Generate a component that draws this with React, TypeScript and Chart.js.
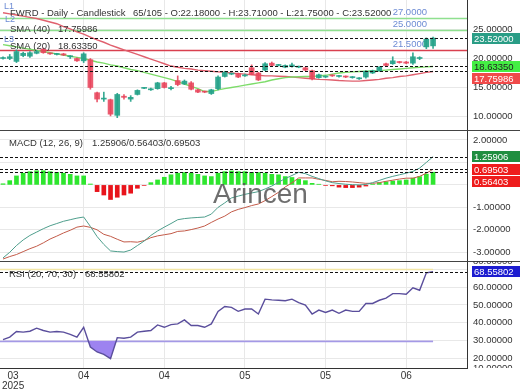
import React, { useEffect, useRef } from 'react';
import { Chart, registerables } from 'chart.js';

Chart.register(...registerables);

const FONT = '"Liberation Sans", Arial, Helvetica, sans-serif';
Chart.defaults.font.family = FONT;

const TXT = '#333333';
const GRID = '#e8e8e8';
const AXIS = '#333333';
const UP = 'rgba(38,163,138,0.92)';
const DOWN = 'rgba(232,70,92,0.88)';

// ---------- data ----------
const TITLE = 'FWRD - Daily - Candlestick';
const BAR_COUNT = '65/105';

const OPEN = [20.0, 20.0, 19.5, 20.5, 20.4, 20.9, 21.6, 20.85, 20.7, 20.8, 20.3, 20.0, 19.6, 19.8, 14.1, 13.0, 12.9, 10.2, 13.5, 13.0, 13.8, 14.85, 14.6, 14.8, 15.8, 14.8, 16.2, 15.6, 15.8, 14.6, 14.3, 13.95, 14.8, 16.9, 17.3, 17.4, 17.0, 18.4, 17.5, 18.0, 19.2, 18.8, 18.5, 18.6, 18.5, 18.4, 17.9, 16.7, 16.8, 17.1, 16.9, 16.9, 16.7, 16.5, 16.8, 17.5, 17.9, 19.1, 19.1, 19.4, 19.4, 19.2, 20.0, 22.0, 22.18];
const HIGH = [20.3, 20.7, 21.5, 21.1, 21.2, 21.4, 21.8, 20.95, 20.9, 20.9, 20.5, 20.1, 21.0, 20.0, 14.2, 14.2, 13.0, 14.0, 13.8, 13.6, 14.6, 15.0, 14.9, 15.9, 15.9, 15.2, 17.0, 16.3, 16.0, 14.7, 14.4, 14.7, 17.0, 17.8, 17.5, 17.5, 17.3, 18.9, 17.6, 19.3, 19.4, 19.0, 18.9, 19.2, 18.7, 18.5, 18.0, 17.3, 17.0, 17.2, 17.1, 17.0, 16.9, 16.7, 17.9, 18.0, 18.6, 19.2, 20.3, 19.5, 19.5, 21.0, 20.3, 23.55, 23.71];
const LOW = [19.9, 19.8, 19.3, 20.3, 20.2, 20.8, 20.9, 20.7, 20.6, 20.5, 20.0, 19.5, 19.3, 14.7, 12.5, 12.6, 10.1, 9.8, 13.0, 12.6, 13.7, 14.8, 14.5, 14.7, 14.9, 14.6, 15.3, 15.5, 14.6, 14.1, 14.1, 13.8, 14.6, 16.8, 17.2, 16.7, 16.9, 17.2, 16.2, 17.9, 18.7, 18.7, 18.4, 18.5, 18.4, 17.9, 16.3, 16.6, 16.7, 16.9, 16.8, 16.7, 16.6, 16.4, 16.6, 17.4, 17.8, 18.7, 19.0, 19.2, 19.1, 19.0, 19.8, 21.7, 21.75];
const CLOSE = [20.1, 20.3, 21.2, 20.9, 21.0, 21.2, 21.0, 20.8, 20.75, 20.6, 20.32, 19.6, 20.8, 15.0, 13.0, 13.1, 10.4, 13.8, 13.3, 13.3, 14.5, 14.9, 14.65, 15.8, 15.0, 14.9, 15.5, 16.1, 14.7, 14.2, 14.2, 14.6, 16.8, 17.6, 17.35, 16.8, 17.1, 17.25, 16.3, 19.1, 18.8, 18.85, 18.8, 18.9, 18.55, 18.0, 16.5, 17.2, 16.85, 17.0, 16.95, 16.8, 16.75, 16.55, 17.8, 17.9, 18.5, 18.8, 19.6, 19.3, 19.2, 20.3, 20.05, 23.35, 23.52];

const SMA20 = [22.4, 22.2, 22.0, 21.8, 21.6, 21.4, 21.2, 21.0, 20.8, 20.6, 20.4, 20.2, 20.0, 19.7, 19.4, 19.2, 18.9, 18.7, 18.4, 18.1, 17.9, 17.6, 17.3, 17.0, 16.7, 16.4, 16.0, 15.6, 15.2, 14.8, 14.3, 14.3, 14.6, 14.8, 15.0, 15.2, 15.4, 15.6, 15.8, 16.0, 16.3, 16.5, 16.7, 16.8, 16.85, 16.9, 16.9, 17.0, 17.1, 17.3, 17.5, 17.6, 17.7, 17.75, 17.8, 17.85, 17.9, 18.0, 18.1, 18.2, 18.3, 18.4, 18.5, 18.55, 18.6335];
const SMA40 = [27.9, 27.7, 27.5, 27.3, 27.1, 26.9, 26.6, 26.3, 26.0, 25.5, 25.1, 24.6, 24.2, 23.7, 23.2, 22.8, 22.3, 21.9, 21.5, 21.1, 20.7, 20.3, 19.9, 19.5, 19.1, 18.7, 18.5, 18.3, 18.2, 18.0, 17.9, 17.8, 17.7, 17.6, 17.5, 17.4, 17.3, 17.2, 17.1, 17.0, 17.0, 16.95, 16.9, 16.8, 16.7, 16.6, 16.5, 16.4, 16.35, 16.3, 16.2, 16.15, 16.1, 16.1, 16.2, 16.3, 16.4, 16.6, 16.7, 16.9, 17.0, 17.2, 17.4, 17.6, 17.75986];

const MACD_LINE = [-3.25, -3.0, -2.7, -2.45, -2.25, -2.1, -1.95, -1.82, -1.72, -1.62, -1.55, -1.48, -1.43, -1.85, -2.3, -2.65, -2.94, -2.97, -2.99, -2.9, -2.7, -2.5, -2.25, -2.05, -1.88, -1.72, -1.55, -1.5, -1.47, -1.45, -1.43, -1.3, -1.0, -0.8, -0.58, -0.5, -0.42, -0.36, -0.3, -0.18, -0.05, 0.12, 0.28, 0.42, 0.56, 0.5, 0.38, 0.28, 0.18, 0.1, 0.06, 0.03, 0.01, 0.0, 0.02, 0.1, 0.2, 0.3, 0.38, 0.45, 0.52, 0.6, 0.75, 1.0, 1.25906];
const SIGNAL_LINE = [-3.3, -3.19, -3.1, -2.97, -2.84, -2.73, -2.58, -2.41, -2.28, -2.14, -2.02, -1.88, -1.83, -1.89, -2.0, -2.2, -2.29, -2.42, -2.54, -2.53, -2.55, -2.48, -2.35, -2.27, -2.22, -2.17, -2.07, -2.05, -1.99, -1.92, -1.83, -1.67, -1.52, -1.39, -1.2, -1.09, -1.01, -0.92, -0.85, -0.7, -0.52, -0.33, -0.09, 0.09, 0.31, 0.31, 0.31, 0.25, 0.2, 0.14, 0.16, 0.15, 0.13, 0.1, 0.07, 0.07, 0.1, 0.16, 0.21, 0.26, 0.3, 0.3, 0.38, 0.52, 0.69503];
const HISTOGRAM = [0.05, 0.19, 0.4, 0.52, 0.59, 0.63, 0.63, 0.59, 0.56, 0.52, 0.47, 0.4, 0.4, 0.04, -0.3, -0.45, -0.65, -0.55, -0.45, -0.37, -0.15, -0.02, 0.1, 0.22, 0.34, 0.45, 0.52, 0.55, 0.52, 0.47, 0.4, 0.37, 0.52, 0.59, 0.62, 0.59, 0.59, 0.56, 0.55, 0.52, 0.47, 0.45, 0.37, 0.33, 0.25, 0.19, 0.07, 0.03, -0.02, -0.04, -0.1, -0.12, -0.12, -0.1, -0.05, 0.03, 0.1, 0.14, 0.17, 0.19, 0.22, 0.3, 0.37, 0.48, 0.56403];

const RSI_VALUES = [30.6, 32.0, 35.1, 34.8, 35.3, 37.0, 35.7, 34.8, 35.1, 34.8, 33.5, 32.0, 37.5, 26.5, 23.7, 22.4, 20.0, 31.7, 31.4, 32.0, 34.8, 35.3, 35.7, 38.8, 37.5, 39.0, 39.4, 41.6, 38.5, 38.5, 37.5, 39.4, 46.4, 49.1, 48.6, 46.4, 47.7, 47.7, 44.9, 53.2, 52.8, 52.6, 52.3, 53.2, 51.3, 49.9, 44.9, 47.1, 45.8, 47.1, 45.3, 47.1, 46.4, 46.4, 50.8, 50.8, 52.6, 53.8, 56.3, 56.3, 56.0, 59.6, 58.2, 67.9, 68.55802];

const X_TICK_INDEX = [1.5, 12, 24, 36, 48, 60];
const X_TICK_LABELS: (string | string[])[] = [['03', '2025'], '04', '04', '05', '05', '06'];

const PRICE_TICKS = [10, 15, 20, 25];
const MACD_TICKS = [-3, -2, -1, 0, 1, 2];
const MACD_TICK_LABELS = [2, -1, -2, -3];
const RSI_TICKS = [20, 30, 40, 50, 60, 70];
const RSI_TICK_LABELS = [80, 60, 50, 40, 30, 20, 10];

const PRICE_LEVELS = [27, 25, 21.5];
const PRICE_LEVEL_COLORS = ['#8fe08f', '#8fe08f', '#d9404f'];
const LINE_NAMES = ['L1', 'L2', 'L3'];
const RSI_LEVELS = [70, 30];
const RSI_LEVEL_COLORS = ['#f2e6a6', '#a499e6'];

// ---------- helpers ----------
const LAST = CLOSE.length - 1;
const f5 = (v: number) => v.toFixed(5);
const f4 = (v: number) => v.toFixed(4);
const pts = (arr: number[]) => arr.map((v, i) => ({ x: i, y: v }));
const candleColors = CLOSE.map((c, i) => (c >= OPEN[i] ? UP : DOWN));

function text(ctx: any, s: string, x: number, y: number, size: number, color: string, align = 'left') {
  ctx.save();
  ctx.font = `${size}px ${FONT}`;
  ctx.fillStyle = color;
  ctx.textAlign = align;
  ctx.textBaseline = 'middle';
  ctx.fillText(s, x, y);
  ctx.restore();
}

function dashed(chart: any, scale: any, value: number) {
  const ctx = chart.ctx;
  const a = chart.chartArea;
  const y = Math.round(scale.getPixelForValue(value)) + 0.5;
  ctx.save();
  ctx.strokeStyle = '#111';
  ctx.lineWidth = 1;
  ctx.setLineDash([3, 2]);
  ctx.beginPath();
  ctx.moveTo(a.left, y);
  ctx.lineTo(a.right, y);
  ctx.stroke();
  ctx.restore();
}

function axisLabels(chart: any, scale: any, values: number[], clamp: boolean) {
  const ctx = chart.ctx;
  const a = chart.chartArea;
  ctx.save();
  ctx.beginPath();
  ctx.rect(a.right + 1, a.top, chart.width - a.right, a.bottom - a.top);
  ctx.clip();
  ctx.font = `9.5px ${FONT}`;
  ctx.fillStyle = TXT;
  ctx.textAlign = 'left';
  ctx.textBaseline = 'middle';
  values.forEach((v) => {
    let y = scale.getPixelForValue(v);
    if (clamp) y = Math.min(Math.max(y, a.top), a.bottom);
    ctx.fillText(f5(v), a.right + 6, y);
  });
  ctx.restore();
}

type Tag = { value: number; bg: string; fg: string };
function tags(chart: any, scale: any, list: Tag[]) {
  const ctx = chart.ctx;
  const a = chart.chartArea;
  const h = 11;
  const items = list.map((t) => ({ ...t, y: scale.getPixelForValue(t.value) })).sort((p, q) => p.y - q.y);
  for (let i = 1; i < items.length; i++) {
    if (items[i].y - items[i - 1].y < h + 1) items[i].y = items[i - 1].y + h + 1;
  }
  ctx.save();
  ctx.font = `9.5px ${FONT}`;
  ctx.textAlign = 'left';
  ctx.textBaseline = 'middle';
  items.forEach((t) => {
    ctx.fillStyle = t.bg;
    ctx.fillRect(a.right + 5, Math.round(t.y - h / 2), chart.width - a.right - 5, h);
    ctx.fillStyle = t.fg;
    ctx.fillText(f5(t.value), a.right + 7, Math.round(t.y - h / 2) + h / 2 + 0.5);
  });
  ctx.restore();
}

function separatorTop(chart: any) {
  const ctx = chart.ctx;
  ctx.save();
  ctx.strokeStyle = '#444';
  ctx.lineWidth = 1;
  ctx.beginPath();
  ctx.moveTo(0, 0.5);
  ctx.lineTo(chart.width, 0.5);
  ctx.stroke();
  ctx.restore();
}

function xScale(showLabels: boolean) {
  return {
    type: 'linear',
    min: -0.45,
    max: 69.05,
    offset: false,
    grid: {
      color: (c: any) => (c.tick && c.tick.value === X_TICK_INDEX[0] ? 'rgba(0,0,0,0)' : GRID),
      drawTicks: false,
      offset: false,
    },
    border: { display: showLabels, color: AXIS },
    ticks: {
      display: showLabels,
      autoSkip: false,
      maxRotation: 0,
      padding: 3,
      color: TXT,
      font: { size: 10, family: FONT, lineHeight: 1.0 },
      callback: (v: number) => {
        const k = X_TICK_INDEX.indexOf(v);
        return k >= 0 ? X_TICK_LABELS[k] : '';
      },
    },
    afterBuildTicks: (s: any) => {
      s.ticks = X_TICK_INDEX.map((v) => ({ value: v }));
    },
    afterFit: (s: any) => {
      s.height = showLabels ? 22 : 0;
      s.paddingLeft = 0;
      s.paddingRight = 0;
    },
  };
}

function yScale(min: number, max: number, ticks: number[]) {
  return {
    type: 'linear',
    position: 'right',
    min,
    max,
    grid: { color: GRID, drawTicks: false },
    border: { display: true, color: AXIS },
    ticks: { display: false },
    afterBuildTicks: (s: any) => {
      s.ticks = ticks.map((v) => ({ value: v }));
    },
    afterFit: (s: any) => {
      s.width = 53;
    },
  };
}

const baseOptions = {
  responsive: false,
  animation: false,
  events: [],
  layout: { padding: 0 },
  plugins: { legend: { display: false }, tooltip: { enabled: false }, title: { display: false } },
};

function priceConfig(): any {
  return {
    type: 'line',
    data: {
      datasets: [
        { type: 'bar', data: LOW.map((l, i) => ({ x: i, y: [l, HIGH[i]] })), backgroundColor: candleColors, barThickness: 1, grouped: false, minBarLength: 1, order: 1 },
        { type: 'bar', data: OPEN.map((o, i) => ({ x: i, y: [o, CLOSE[i]] })), backgroundColor: candleColors, barThickness: 5, grouped: false, minBarLength: 1, order: 0 },
        { type: 'line', data: pts(SMA40), borderColor: '#e0606e', borderWidth: 1.4, pointRadius: 0, tension: 0, order: 3 },
        { type: 'line', data: pts(SMA20), borderColor: '#7ddc6a', borderWidth: 1.4, pointRadius: 0, tension: 0, order: 2 },
      ],
    },
    options: {
      ...baseOptions,
      scales: { x: xScale(false), y: yScale(7.67, 30.09, PRICE_TICKS) },
    },
    plugins: [
      {
        id: 'pricePanel',
        beforeDatasetsDraw(chart: any) {
          const ctx = chart.ctx;
          const a = chart.chartArea;
          const y = chart.scales.y;
          PRICE_LEVELS.forEach((lv, k) => {
            const py = Math.round(y.getPixelForValue(lv)) + 0.5;
            ctx.save();
            ctx.strokeStyle = PRICE_LEVEL_COLORS[k];
            ctx.lineWidth = 1.5;
            ctx.beginPath();
            ctx.moveTo(a.left, py);
            ctx.lineTo(a.right, py);
            ctx.stroke();
            ctx.restore();
            text(ctx, f4(lv), 427, py - 6.5, 9.5, '#6d8bd4', 'right');
          });
        },
        afterDatasetsDraw(chart: any) {
          const y = chart.scales.y;
          dashed(chart, y, CLOSE[LAST]);
          dashed(chart, y, SMA20[LAST]);
          dashed(chart, y, SMA40[LAST]);
        },
        afterDraw(chart: any) {
          const ctx = chart.ctx;
          const y = chart.scales.y;
          text(ctx, TITLE, 10, 13, 9.5, TXT);
          text(ctx, `${BAR_COUNT} - O:${f5(OPEN[LAST])} - H:${f5(HIGH[LAST])} - L:${f5(LOW[LAST])} - C:${f5(CLOSE[LAST])}`, 133, 13, 9.5, TXT);
          text(ctx, 'SMA (40)', 10, 29.5, 9.5, TXT);
          text(ctx, f5(SMA40[LAST]), 58, 29.5, 9.5, TXT);
          text(ctx, 'SMA (20)', 10, 46, 9.5, TXT);
          text(ctx, f5(SMA20[LAST]), 58, 46, 9.5, TXT);
          text(ctx, LINE_NAMES[0], 4, 7, 9, '#6d8bd4');
          text(ctx, LINE_NAMES[1], 5, 20, 9, '#6d8bd4');
          text(ctx, LINE_NAMES[2], 4, 40, 9, '#6d8bd4');
          axisLabels(chart, y, PRICE_TICKS, false);
          tags(chart, y, [
            { value: CLOSE[LAST], bg: '#2a9d86', fg: '#ffffff' },
            { value: SMA20[LAST], bg: '#44ee44', fg: '#222222' },
            { value: SMA40[LAST], bg: '#f04a4a', fg: '#ffffff' },
          ]);
        },
      },
    ],
  };
}

function macdConfig(): any {
  return {
    type: 'line',
    data: {
      datasets: [
        { type: 'bar', data: pts(HISTOGRAM), backgroundColor: HISTOGRAM.map((v) => (v >= 0 ? '#2ee62e' : '#e8141b')), barThickness: 4, grouped: false, order: 2 },
        { type: 'line', data: pts(MACD_LINE), borderColor: '#4e9e8c', borderWidth: 1, pointRadius: 0, tension: 0, order: 0 },
        { type: 'line', data: pts(SIGNAL_LINE), borderColor: '#c25a48', borderWidth: 1, pointRadius: 0, tension: 0, order: 1 },
      ],
    },
    options: {
      ...baseOptions,
      scales: { x: xScale(false), y: yScale(-3.388, 2.444, MACD_TICKS) },
    },
    plugins: [
      {
        id: 'macdPanel',
        afterDatasetsDraw(chart: any) {
          const y = chart.scales.y;
          dashed(chart, y, MACD_LINE[LAST]);
          dashed(chart, y, SIGNAL_LINE[LAST]);
          dashed(chart, y, HISTOGRAM[LAST]);
          const ctx = chart.ctx;
          ctx.save();
          ctx.font = `28px ${FONT}`;
          ctx.fillStyle = 'rgba(85,85,85,0.85)';
          ctx.textAlign = 'left';
          ctx.textBaseline = 'alphabetic';
          ctx.fillText('Arincen', 213, 73);
          ctx.restore();
        },
        afterDraw(chart: any) {
          const ctx = chart.ctx;
          const y = chart.scales.y;
          separatorTop(chart);
          text(ctx, 'MACD (12, 26, 9)', 9, 13.5, 9.5, TXT);
          text(ctx, `${f5(MACD_LINE[LAST])}/${f5(HISTOGRAM[LAST])}/${f5(SIGNAL_LINE[LAST])}`, 92, 13.5, 9.5, TXT);
          axisLabels(chart, y, MACD_TICK_LABELS, false);
          tags(chart, y, [
            { value: MACD_LINE[LAST], bg: '#1f8e40', fg: '#ffffff' },
            { value: SIGNAL_LINE[LAST], bg: '#ee1c1c', fg: '#ffffff' },
            { value: HISTOGRAM[LAST], bg: '#ee1c1c', fg: '#ffffff' },
          ]);
        },
      },
    ],
  };
}

function rsiConfig(): any {
  return {
    type: 'line',
    data: {
      datasets: [
        {
          type: 'line',
          data: pts(RSI_VALUES),
          borderColor: '#5a4e9c',
          borderWidth: 1.4,
          pointRadius: 0,
          tension: 0,
          fill: { target: { value: 30 }, above: 'rgba(0,0,0,0)', below: '#9d83f0' },
        },
      ],
    },
    options: {
      ...baseOptions,
      scales: { x: xScale(true), y: yScale(14.75, 74.53, RSI_TICKS) },
    },
    plugins: [
      {
        id: 'rsiPanel',
        beforeDatasetsDraw(chart: any) {
          const ctx = chart.ctx;
          const a = chart.chartArea;
          const x = chart.scales.x;
          const y = chart.scales.y;
          RSI_LEVELS.forEach((lv, k) => {
            const py = Math.round(y.getPixelForValue(lv)) + 0.5;
            ctx.save();
            ctx.strokeStyle = RSI_LEVEL_COLORS[k];
            ctx.lineWidth = 1.5;
            ctx.beginPath();
            ctx.moveTo(a.left, py);
            ctx.lineTo(x.getPixelForValue(LAST), py);
            ctx.stroke();
            ctx.restore();
          });
        },
        afterDatasetsDraw(chart: any) {
          dashed(chart, chart.scales.y, RSI_VALUES[LAST]);
        },
        afterDraw(chart: any) {
          const ctx = chart.ctx;
          const y = chart.scales.y;
          separatorTop(chart);
          text(ctx, 'RSI (20; 70; 30)', 9, 13, 9.5, TXT);
          text(ctx, f5(RSI_VALUES[LAST]), 85, 13, 9.5, TXT);
          axisLabels(chart, y, RSI_TICK_LABELS, true);
          tags(chart, y, [{ value: RSI_VALUES[LAST], bg: '#1c1cd0', fg: '#ffffff' }]);
        },
      },
    ],
  };
}

export default function App() {
  const r1 = useRef<HTMLCanvasElement>(null);
  const r2 = useRef<HTMLCanvasElement>(null);
  const r3 = useRef<HTMLCanvasElement>(null);

  useEffect(() => {
    document.body.style.margin = '0';
    const charts = [
      new Chart(r1.current as HTMLCanvasElement, priceConfig()),
      new Chart(r2.current as HTMLCanvasElement, macdConfig()),
      new Chart(r3.current as HTMLCanvasElement, rsiConfig()),
    ];
    return () => charts.forEach((c) => c.destroy());
  }, []);

  return (
    <div style={{ position: 'absolute', left: 0, top: 0, width: 520, height: 390, background: '#ffffff' }}>
      <canvas ref={r1} width={520} height={130} style={{ display: 'block', width: 520, height: 130 }} />
      <canvas ref={r2} width={520} height={131} style={{ display: 'block', width: 520, height: 131 }} />
      <canvas ref={r3} width={520} height={129} style={{ display: 'block', width: 520, height: 129 }} />
    </div>
  );
}
